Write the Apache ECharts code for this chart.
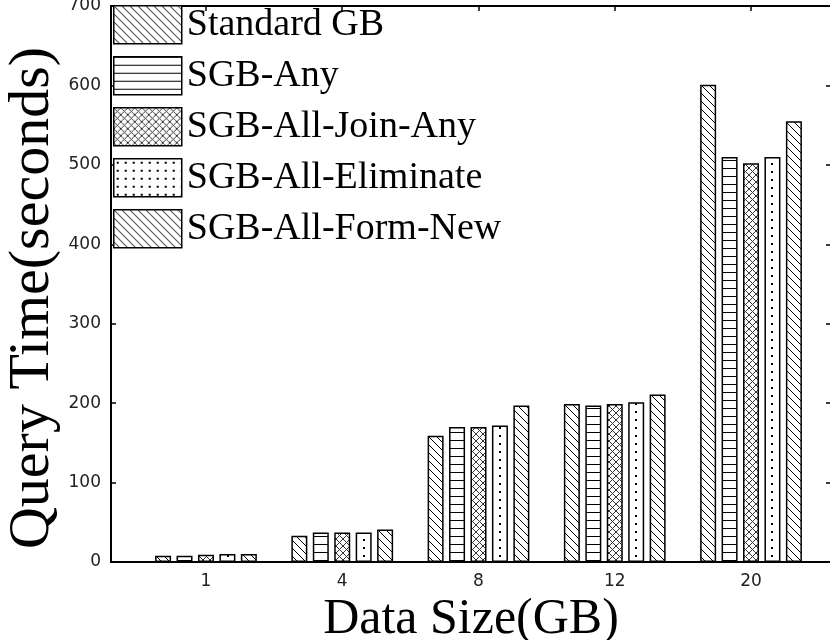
<!DOCTYPE html>
<html>
<head>
<meta charset="utf-8">
<script src="https://cdn.jsdelivr.net/npm/echarts@6/dist/echarts.min.js"></script>
<style>
  html, body { margin: 0; padding: 0; background: #fff; }
  #chart { width: 830px; height: 640px; }
</style>
</head>
<body>
<div id="chart"></div>
<script>
// data
const categories = ['1', '4', '8', '12', '20']
const seriesNames = ['Standard GB', 'SGB-Any', 'SGB-All-Join-Any', 'SGB-All-Eliminate', 'SGB-All-Form-New']
const standardGB = [8, 33, 159, 199, 601]
const sgbAny = [8, 37, 170, 197, 510]
const sgbAllJoinAny = [9, 37, 170, 199, 502]
const sgbAllEliminate = [10, 37, 172, 201, 510]
const sgbAllFormNew = [10, 41, 197, 211, 555]
const yTicks = [0, 100, 200, 300, 400, 500, 600, 700]

const serif = '"Liberation Serif", "Times New Roman", serif'
const sans = '"DejaVu Sans", Arial, sans-serif'

// hatch tiles, drawn pixel by pixel so they tile cleanly
const makePattern = (kind) => {
    const s = kind === 'cross' ? 7 : 8
    const c = document.createElement('canvas')
    c.width = s
    c.height = s
    const ctx = c.getContext('2d')
    ctx.fillStyle = '#fff'
    ctx.fillRect(0, 0, s, s)
    ctx.fillStyle = kind === 'cross' ? '#333' : '#000'
    for (let i = 0; i < s; i++) {
        if (kind === 'diag' || kind === 'cross') ctx.fillRect(i, i, 1, 1)
        if (kind === 'cross') ctx.fillRect(s - 1 - i, i, 1, 1)
    }
    if (kind === 'hline') ctx.fillRect(0, 0, s, 1)
    if (kind === 'dots') ctx.fillRect(3, 3, 2, 2)
    return { image: c, repeat: 'repeat' }
}

const patterns = [makePattern('diag'), makePattern('hline'), makePattern('cross'), makePattern('dots'), makePattern('diag')]
const values = [standardGB, sgbAny, sgbAllJoinAny, sgbAllEliminate, sgbAllFormNew]
const positions = categories.map((c, i) => i + 1)

const chart = echarts.init(document.getElementById('chart'), null, { renderer: 'canvas' })

const xBase = {
    type: 'value',
    min: 0.303,
    max: 5.587,
    splitLine: { show: false },
    axisLine: { show: true, onZero: false, lineStyle: { color: '#000', width: 2 } },
    axisTick: { show: true, inside: true, length: 5, customValues: positions, lineStyle: { color: '#000', width: 1.5 } }
}
const yBase = {
    type: 'value',
    min: 0,
    max: 700,
    interval: 100,
    splitLine: { show: false },
    axisLine: { show: true, lineStyle: { color: '#000', width: 2 } },
    axisTick: { show: true, inside: true, length: 5, lineStyle: { color: '#000', width: 1.5 } }
}

chart.setOption({
    backgroundColor: '#fff',
    animation: false,
    grid: { left: 111, right: -1, top: 6, bottom: 78, containLabel: false, outerBoundsMode: 'none' },
    legend: {
        orient: 'vertical',
        left: 113,
        top: 5,
        padding: 0,
        itemWidth: 68,
        itemHeight: 38,
        itemGap: 11.5,
        icon: 'rect',
        data: seriesNames,
        itemStyle: { borderColor: '#000', borderWidth: 1.5 },
        textStyle: { fontFamily: serif, fontSize: 38, color: '#000', padding: [4, 0, 0, 0] }
    },
    xAxis: [
        Object.assign({}, xBase, {
            position: 'bottom',
            name: 'Data Size(GB)',
            nameLocation: 'middle',
            nameGap: 30,
            nameTextStyle: { fontFamily: serif, fontSize: 50, color: '#000' },
            axisLabel: {
                customValues: positions,
                margin: 11,
                fontFamily: sans,
                fontSize: 17,
                color: '#222',
                formatter: (v) => categories[Math.round(v) - 1]
            }
        }),
        Object.assign({}, xBase, { position: 'top', axisLabel: { show: false } })
    ],
    yAxis: [
        Object.assign({}, yBase, {
            position: 'left',
            name: 'Query Time(seconds)',
            nameLocation: 'middle',
            nameGap: 49,
            nameMoveOverlap: false,
            nameTextStyle: { fontFamily: serif, fontSize: 58, color: '#000', padding: [0, 28, 0, 0] },
            axisLabel: {
                margin: 10,
                fontFamily: sans,
                fontSize: 17,
                color: '#222',
                formatter: (v) => (yTicks.includes(v) ? String(v) : '')
            }
        }),
        Object.assign({}, yBase, { position: 'right', axisLabel: { show: false } })
    ],
    series: seriesNames.map((name, k) => ({
        name,
        type: 'bar',
        xAxisIndex: 0,
        yAxisIndex: 0,
        barWidth: 16,
        barGap: '34%',
        itemStyle: { color: patterns[k], borderColor: '#000', borderWidth: 1.5 },
        data: values[k].map((v, i) => [positions[i], v])
    }))
})
</script>
</body>
</html>
